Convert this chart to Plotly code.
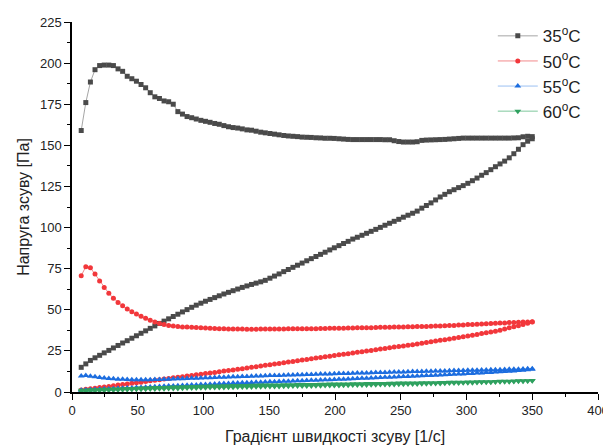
import plotly.graph_objects as go

# Shear rate grid [1/s] (forward ramp; the backward ramp uses the same values in reverse)
SHEAR = [7.0, 10.5, 14.0, 17.5, 21.0, 24.5, 28.0, 31.5, 35.0, 38.5,
         42.0, 45.5, 49.0, 52.5, 56.0, 59.5, 63.0, 66.5, 70.0, 73.5,
         77.0, 80.5, 84.0, 87.5, 91.0, 94.5, 98.0, 101.5, 105.0, 108.5,
         112.0, 115.5, 119.0, 122.5, 126.0, 129.5, 133.0, 136.5, 140.0, 143.5,
         147.0, 150.5, 154.0, 157.5, 161.0, 164.5, 168.0, 171.5, 175.0, 178.5,
         182.0, 185.5, 189.0, 192.5, 196.0, 199.5, 203.0, 206.5, 210.0, 213.5,
         217.0, 220.5, 224.0, 227.5, 231.0, 234.5, 238.0, 241.5, 245.0, 248.5,
         252.0, 255.5, 259.0, 262.5, 266.0, 269.5, 273.0, 276.5, 280.0, 283.5,
         287.0, 290.5, 294.0, 297.5, 301.0, 304.5, 308.0, 311.5, 315.0, 318.5,
         322.0, 325.5, 329.0, 332.5, 336.0, 339.5, 343.0, 346.5, 350.0]

# Shear stress [Pa], forward ramp (ascending shear rate)
T35_UP = [159.0, 176.0, 188.5, 196.0, 198.5, 198.8, 198.8, 198.5, 196.5, 195.0,
          192.0, 190.5, 189.0, 187.0, 185.0, 182.0, 179.5, 178.5, 177.0, 176.5,
          175.0, 170.5, 169.0, 167.5, 166.8, 166.0, 165.2, 164.6, 164.0, 163.3,
          162.8, 162.0, 161.3, 160.8, 160.5, 160.0, 159.4, 159.2, 158.6, 158.0,
          157.6, 157.2, 156.8, 156.4, 156.0, 155.7, 155.5, 155.3, 155.0, 154.9,
          154.8, 154.6, 154.5, 154.3, 154.3, 154.2, 154.0, 153.8, 153.6, 153.5,
          153.5, 153.5, 153.5, 153.5, 153.5, 153.5, 153.4, 153.4, 152.8, 152.3,
          152.0, 152.0, 152.0, 152.2, 153.0, 153.2, 153.3, 153.4, 153.5, 153.6,
          153.8, 154.0, 154.2, 154.4, 154.4, 154.4, 154.4, 154.4, 154.4, 154.4,
          154.4, 154.4, 154.4, 154.4, 154.5, 154.6, 155.2, 155.5, 155.3]
# backward ramp, listed at ascending shear rate
T35_DOWN = [15.0, 17.1, 19.2, 20.8, 22.3, 23.8, 25.3, 26.8, 28.3, 29.8,
            31.2, 32.7, 34.2, 35.7, 37.2, 38.7, 40.2, 41.7, 43.1, 44.5,
            45.9, 47.3, 48.7, 50.1, 51.5, 52.8, 54.0, 55.2, 56.3, 57.4,
            58.5, 59.6, 60.6, 61.6, 62.6, 63.6, 64.5, 65.4, 66.2, 67.0,
            67.9, 69.2, 70.5, 71.8, 73.2, 74.5, 75.8, 77.1, 78.4, 79.8,
            81.1, 82.4, 83.7, 85.0, 86.4, 87.7, 89.0, 90.3, 91.6, 93.0,
            94.1, 95.3, 96.5, 97.7, 98.9, 100.1, 101.4, 102.6, 103.8, 105.0,
            106.3, 107.5, 108.7, 110.0, 111.8, 113.4, 115.0, 116.8, 118.6, 120.2,
            121.8, 123.0, 124.3, 125.5, 126.9, 128.5, 130.1, 131.8, 133.4, 135.2,
            137.0, 138.7, 140.4, 142.4, 144.9, 147.6, 150.4, 152.5, 154.0]

T50_UP = [70.7, 76.2, 75.5, 71.7, 67.5, 63.5, 60.0, 57.0, 54.5, 52.5,
          50.5, 48.8, 47.4, 46.0, 44.8, 43.6, 42.6, 41.6, 41.0, 40.5,
          40.1, 39.8, 39.6, 39.5, 39.4, 39.2, 39.0, 38.9, 38.7, 38.6,
          38.5, 38.4, 38.3, 38.3, 38.3, 38.3, 38.2, 38.2, 38.2, 38.3,
          38.3, 38.3, 38.3, 38.3, 38.3, 38.4, 38.4, 38.4, 38.4, 38.5,
          38.5, 38.5, 38.6, 38.6, 38.7, 38.7, 38.8, 38.8, 38.9, 38.9,
          39.0, 39.0, 39.1, 39.1, 39.2, 39.3, 39.3, 39.4, 39.5, 39.6,
          39.6, 39.7, 39.7, 39.8, 39.9, 39.9, 40.0, 40.1, 40.2, 40.3,
          40.4, 40.5, 40.7, 40.8, 41.0, 41.1, 41.2, 41.4, 41.5, 41.6,
          41.8, 41.9, 42.0, 42.2, 42.3, 42.4, 42.5, 42.6, 42.7]
T50_DOWN = [1.2, 1.6, 2.0, 2.3, 2.7, 3.1, 3.4, 3.8, 4.2, 4.5,
            4.9, 5.3, 5.6, 6.0, 6.4, 6.8, 7.1, 7.5, 7.9, 8.2,
            8.6, 9.0, 9.3, 9.7, 10.1, 10.5, 10.8, 11.2, 11.6, 11.9,
            12.3, 12.7, 13.1, 13.4, 13.8, 14.2, 14.6, 15.0, 15.4, 15.8,
            16.2, 16.6, 17.0, 17.4, 17.8, 18.2, 18.6, 19.0, 19.4, 19.8,
            20.2, 20.6, 21.0, 21.4, 21.8, 22.2, 22.6, 23.0, 23.3, 23.7,
            24.1, 24.5, 24.9, 25.3, 25.7, 26.1, 26.5, 26.9, 27.3, 27.6,
            28.0, 28.4, 28.8, 29.2, 29.6, 30.1, 30.6, 31.0, 31.4, 31.8,
            32.2, 32.7, 33.1, 33.6, 34.1, 34.5, 35.0, 35.5, 36.0, 36.5,
            37.0, 37.6, 38.3, 39.0, 39.7, 40.3, 41.0, 41.8, 42.5]

T55_UP = [9.8, 10.0, 9.6, 9.2, 8.8, 8.5, 8.2, 8.0, 7.8, 7.7,
          7.6, 7.5, 7.5, 7.5, 7.5, 7.5, 7.6, 7.6, 7.7, 7.8,
          7.9, 8.0, 8.1, 8.2, 8.3, 8.4, 8.5, 8.6, 8.7, 8.8,
          8.9, 9.0, 9.1, 9.2, 9.3, 9.4, 9.5, 9.6, 9.7, 9.8,
          9.9, 10.0, 10.1, 10.1, 10.2, 10.3, 10.4, 10.5, 10.5, 10.6,
          10.7, 10.8, 10.9, 10.9, 11.0, 11.1, 11.2, 11.3, 11.3, 11.4,
          11.5, 11.6, 11.6, 11.7, 11.8, 11.9, 11.9, 12.0, 12.1, 12.2,
          12.2, 12.3, 12.4, 12.4, 12.5, 12.6, 12.6, 12.7, 12.8, 12.8,
          12.9, 13.0, 13.0, 13.1, 13.2, 13.2, 13.3, 13.4, 13.4, 13.5,
          13.6, 13.6, 13.7, 13.8, 13.8, 13.9, 14.0, 14.1, 14.2]
T55_DOWN = [1.0, 1.2, 1.3, 1.5, 1.6, 1.8, 1.9, 2.0, 2.2, 2.3,
            2.4, 2.5, 2.7, 2.8, 2.9, 3.0, 3.2, 3.3, 3.5, 3.6,
            3.7, 3.8, 4.0, 4.1, 4.2, 4.3, 4.5, 4.6, 4.7, 4.9,
            5.0, 5.1, 5.2, 5.4, 5.5, 5.6, 5.7, 5.8, 5.9, 6.0,
            6.1, 6.2, 6.3, 6.4, 6.5, 6.6, 6.7, 6.8, 6.9, 7.0,
            7.1, 7.2, 7.3, 7.4, 7.5, 7.6, 7.7, 7.8, 7.9, 8.0,
            8.2, 8.3, 8.4, 8.5, 8.6, 8.8, 8.9, 9.0, 9.1, 9.3,
            9.4, 9.5, 9.6, 9.8, 9.9, 10.0, 10.1, 10.2, 10.4, 10.5,
            10.6, 10.8, 10.9, 11.0, 11.2, 11.3, 11.5, 11.6, 11.8, 11.9,
            12.1, 12.3, 12.4, 12.6, 12.8, 13.0, 13.2, 13.5, 13.8]

T60_UP = [1.0, 1.1, 1.3, 1.4, 1.5, 1.6, 1.7, 1.8, 1.9, 2.0,
          2.1, 2.2, 2.3, 2.4, 2.5, 2.6, 2.7, 2.7, 2.8, 2.9,
          3.0, 3.1, 3.2, 3.2, 3.3, 3.4, 3.5, 3.5, 3.6, 3.7,
          3.7, 3.8, 3.8, 3.9, 3.9, 4.0, 4.0, 4.1, 4.1, 4.2,
          4.2, 4.2, 4.3, 4.3, 4.4, 4.4, 4.4, 4.5, 4.5, 4.6,
          4.6, 4.6, 4.7, 4.7, 4.8, 4.8, 4.8, 4.9, 4.9, 5.0,
          5.0, 5.0, 5.1, 5.1, 5.2, 5.2, 5.2, 5.3, 5.3, 5.4,
          5.4, 5.4, 5.5, 5.5, 5.6, 5.6, 5.7, 5.7, 5.8, 5.8,
          5.9, 5.9, 6.0, 6.0, 6.1, 6.1, 6.2, 6.2, 6.3, 6.3,
          6.4, 6.5, 6.5, 6.6, 6.7, 6.8, 6.9, 6.9, 7.0]
T60_DOWN = [0.3, 0.4, 0.5, 0.7, 0.8, 0.9, 1.0, 1.1, 1.2, 1.3,
            1.4, 1.5, 1.6, 1.6, 1.7, 1.8, 1.9, 2.0, 2.0, 2.1,
            2.2, 2.2, 2.3, 2.4, 2.4, 2.5, 2.6, 2.6, 2.7, 2.7,
            2.8, 2.8, 2.9, 2.9, 3.0, 3.0, 3.1, 3.1, 3.2, 3.2,
            3.3, 3.3, 3.4, 3.4, 3.5, 3.5, 3.6, 3.6, 3.7, 3.7,
            3.7, 3.8, 3.8, 3.9, 3.9, 4.0, 4.0, 4.1, 4.1, 4.2,
            4.2, 4.3, 4.3, 4.4, 4.4, 4.5, 4.5, 4.6, 4.6, 4.7,
            4.7, 4.8, 4.8, 4.9, 5.0, 5.0, 5.1, 5.2, 5.2, 5.3,
            5.4, 5.4, 5.5, 5.6, 5.6, 5.7, 5.8, 5.9, 5.9, 6.0,
            6.1, 6.2, 6.2, 6.3, 6.4, 6.5, 6.6, 6.7, 6.8]

SERIES = [
    ("35<sup>o</sup>C", T35_UP, T35_DOWN, "square", "#4a4a4a", "#a6a6a6", 5),
    ("50<sup>o</sup>C", T50_UP, T50_DOWN, "circle", "#f2373b", "#f28a8c", 5),
    ("55<sup>o</sup>C", T55_UP, T55_DOWN, "triangle-up", "#1c6ddf", "#9cc0f2", 6),
    ("60<sup>o</sup>C", T60_UP, T60_DOWN, "triangle-down", "#2fa15f", "#7fc89c", 6),
]

fig = go.Figure()
for name, up, down, sym, mcol, lcol, msize in SERIES:
    xs = SHEAR + SHEAR[::-1]
    ys = up + down[::-1]
    fig.add_trace(go.Scatter(
        x=xs, y=ys, mode="lines+markers", name=name,
        line=dict(color=lcol, width=1),
        marker=dict(symbol=sym, size=msize, color=mcol, line=dict(width=0)),
    ))

FONT = "Liberation Sans, Arial, sans-serif"
# the page body adds an 8 px margin, so the figure is 8 px smaller each way
fig.update_layout(
    width=603, height=437,
    margin=dict(l=64, r=13, t=10, b=53),
    paper_bgcolor="white", plot_bgcolor="white",
    font=dict(family=FONT, color="#222222"),
    showlegend=True,
    legend=dict(x=0.80, y=1.01, xanchor="left", yanchor="top",
                font=dict(size=17, family=FONT, color="#222222"),
                itemwidth=40,
                bgcolor="rgba(0,0,0,0)", tracegroupgap=0),
)
fig.update_xaxes(
    range=[0, 400], dtick=50, tick0=0, automargin=False,
    showline=True, linecolor="black", linewidth=1.5,
    ticks="outside", ticklen=6, tickwidth=1.2, tickcolor="black",
    minor=dict(ticks="outside", ticklen=3, dtick=25, tickcolor="black", tickwidth=1),
    showgrid=False, zeroline=False,
    tickfont=dict(size=13, family=FONT, color="#222222"),
    title=dict(text="Градієнт швидкості зсуву [1/с]", font=dict(size=16, family=FONT, color="#222222"), standoff=14),
)
fig.update_yaxes(
    range=[0, 225], dtick=25, tick0=0, automargin=False,
    showline=True, linecolor="black", linewidth=1.5,
    ticks="outside", ticklen=6, tickwidth=1.2, tickcolor="black",
    minor=dict(ticks="outside", ticklen=3, dtick=12.5, tickcolor="black", tickwidth=1),
    showgrid=False, zeroline=False,
    tickfont=dict(size=13, family=FONT, color="#222222"),
    title=dict(text="Напруга зсуву [Па]", font=dict(size=16, family=FONT, color="#222222"), standoff=6),
)

fig.write_html("out.html")
